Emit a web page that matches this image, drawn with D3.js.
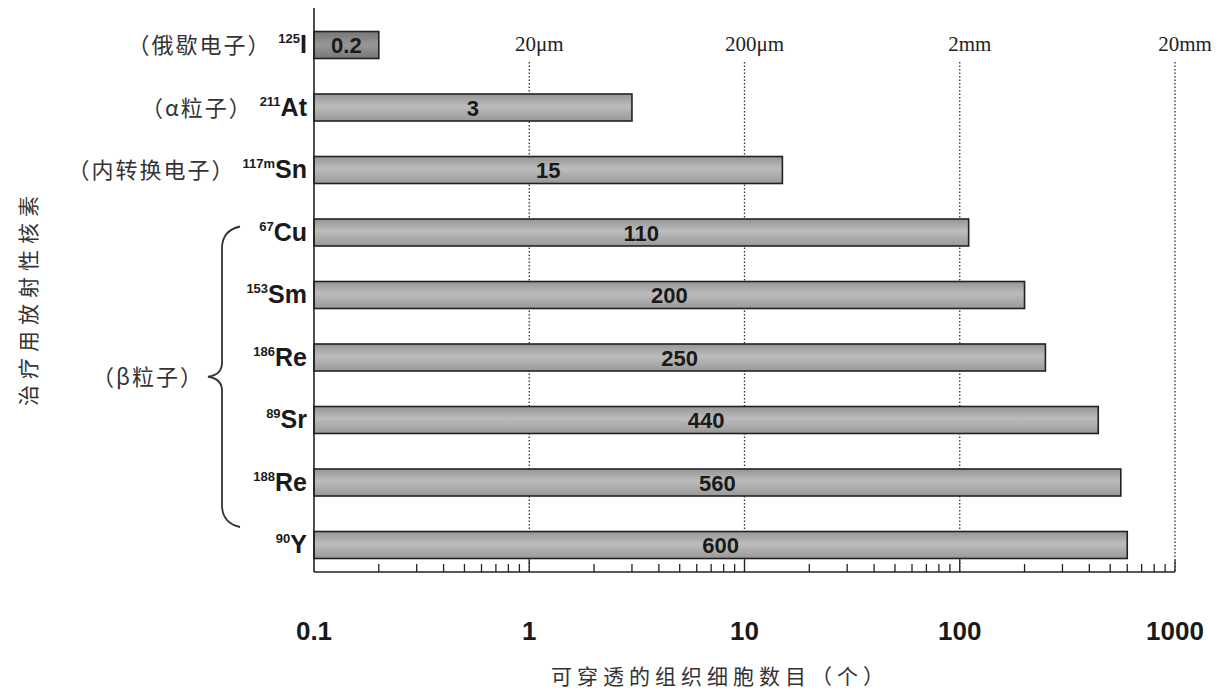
<!DOCTYPE html>
<html>
<head>
<meta charset="utf-8">
<script src="https://cdn.jsdelivr.net/npm/d3@7"></script>
<style>
  body { margin: 0; background: #fff; }
  svg { display: block; }
</style>
</head>
<body>
<div id="chart"></div>
<script>
// nuclides, top to bottom
const massNumbers = ['125', '211', '117m', '67', '153', '186', '89', '188', '90'];
const symbols = ['I', 'At', 'Sn', 'Cu', 'Sm', 'Re', 'Sr', 'Re', 'Y'];
const particleTypes = ['（俄歇电子）', '（α粒子）', '（内转换电子）', '', '', '', '', '', ''];
const cellCounts = [0.2, 3, 15, 110, 200, 250, 440, 560, 600];

// x axis ticks and range markers
const tickValues = [0.1, 1, 10, 100, 1000];
const tickLabels = ['0.1', '1', '10', '100', '1000'];
const rangeMarks = [1, 10, 100, 1000];
const rangeLabels = ['20μm', '200μm', '2mm', '20mm'];

const width = 1218;
const height = 691;

const svg = d3.select('#chart')
    .append('svg')
    .attr('width', width)
    .attr('height', height);

const defs = svg.append('defs');
const grad = defs.append('linearGradient')
    .attr('id', 'barGrad')
    .attr('x1', 0).attr('y1', 0).attr('x2', 0).attr('y2', 1);
grad.append('stop').attr('offset', '0%').attr('stop-color', '#959595');
grad.append('stop').attr('offset', '45%').attr('stop-color', '#bcbcbc');
grad.append('stop').attr('offset', '100%').attr('stop-color', '#999');

const gradDark = defs.append('linearGradient')
    .attr('id', 'barGradDark')
    .attr('x1', 0).attr('y1', 0).attr('x2', 0).attr('y2', 1);
gradDark.append('stop').attr('offset', '0%').attr('stop-color', '#777');
gradDark.append('stop').attr('offset', '50%').attr('stop-color', '#979797');
gradDark.append('stop').attr('offset', '100%').attr('stop-color', '#777');

const axisY = 572;
const x = d3.scaleLog()
    .domain([0.1, 1000])
    .range([314, 1175]);

const rows = d3.range(cellCounts.length);
const y = d3.scalePoint()
    .domain(rows)
    .range([45, 545]);
const barH = 27;

// dotted range lines
svg.append('g')
    .selectAll('line')
    .data(rangeMarks)
    .enter()
    .append('line')
    .attr('x1', d => x(d))
    .attr('x2', d => x(d))
    .attr('y1', 62)
    .attr('y2', axisY)
    .style('stroke', '#333')
    .style('stroke-width', 1.3)
    .style('stroke-dasharray', '1.5,2');

svg.append('g')
    .selectAll('text')
    .data(rangeMarks)
    .enter()
    .append('text')
    .attr('x', d => x(d) + 10)
    .attr('y', 51)
    .attr('text-anchor', 'middle')
    .style('font-family', '"Liberation Serif", "DejaVu Serif", serif')
    .style('font-size', '21px')
    .style('fill', '#222')
    .text((d, i) => rangeLabels[i]);

// bars
svg.append('g')
    .selectAll('rect')
    .data(cellCounts)
    .enter()
    .append('rect')
    .attr('x', x(0.1))
    .attr('y', (d, i) => y(i) - barH / 2)
    .attr('width', d => x(d) - x(0.1))
    .attr('height', barH)
    .style('fill', (d, i) => i === 0 ? 'url(#barGradDark)' : 'url(#barGrad)')
    .style('stroke', '#222')
    .style('stroke-width', 1.6);

// values inside bars
svg.append('g')
    .selectAll('text')
    .data(cellCounts)
    .enter()
    .append('text')
    .attr('x', d => (x(0.1) + x(d)) / 2)
    .attr('y', (d, i) => y(i) + 8)
    .attr('text-anchor', 'middle')
    .style('font-family', '"Liberation Sans", Arial, sans-serif')
    .style('font-weight', 'bold')
    .style('font-size', '22px')
    .style('fill', '#1a1a1a')
    .text(d => d);

// y axis line
svg.append('line')
    .attr('x1', x(0.1)).attr('x2', x(0.1))
    .attr('y1', 8).attr('y2', axisY)
    .style('stroke', '#222')
    .style('stroke-width', 1.6);

// x axis with upward ticks
const minorTicks = x.ticks().filter(t => !tickValues.includes(t));
const xAxis = svg.append('g')
    .attr('transform', `translate(0,${axisY})`);
xAxis.append('line')
    .attr('x1', x(0.1)).attr('x2', x(1000))
    .style('stroke', '#222')
    .style('stroke-width', 1.6);
xAxis.selectAll('.minor')
    .data(minorTicks)
    .enter()
    .append('line')
    .attr('x1', d => x(d)).attr('x2', d => x(d))
    .attr('y1', 0).attr('y2', -8)
    .style('stroke', '#222')
    .style('stroke-width', 1.3);
xAxis.selectAll('.major')
    .data(tickValues.slice(1))
    .enter()
    .append('line')
    .attr('x1', d => x(d)).attr('x2', d => x(d))
    .attr('y1', 0).attr('y2', -12)
    .style('stroke', '#222')
    .style('stroke-width', 1.3);
xAxis.selectAll('text')
    .data(tickValues)
    .enter()
    .append('text')
    .attr('x', d => x(d))
    .attr('y', 68)
    .attr('text-anchor', 'middle')
    .style('font-family', '"Liberation Sans", Arial, sans-serif')
    .style('font-weight', 'bold')
    .style('font-size', '26px')
    .style('fill', '#1a1a1a')
    .text((d, i) => tickLabels[i]);

// nuclide labels with particle type prefix
const labels = svg.append('g')
    .selectAll('text')
    .data(rows)
    .enter()
    .append('text')
    .attr('x', 307)
    .attr('y', i => y(i) + 8)
    .attr('text-anchor', 'end')
    .style('fill', '#1a1a1a');
labels.append('tspan')
    .style('font-family', '"Noto Sans CJK SC", sans-serif')
    .style('font-size', '22px')
    .style('letter-spacing', '2px')
    .style('fill', '#333')
    .text(i => particleTypes[i] ? particleTypes[i] + ' ' : '');
labels.append('tspan')
    .attr('dy', -10)
    .style('font-family', '"Liberation Sans", Arial, sans-serif')
    .style('font-weight', 'bold')
    .style('font-size', '13px')
    .text(i => massNumbers[i]);
labels.append('tspan')
    .attr('dy', 10)
    .style('font-family', '"Liberation Sans", Arial, sans-serif')
    .style('font-weight', 'bold')
    .style('font-size', '25px')
    .text(i => symbols[i]);

// brace for beta emitters
const bTop = y(3) - 6, bBot = y(8) - 18, bMid = (bTop + bBot) / 2;
svg.append('path')
    .attr('d', `M240,${bTop} Q222,${bTop + 4} 222,${bTop + 22} L222,${bMid - 14} Q222,${bMid - 2} 208,${bMid}
               Q222,${bMid + 2} 222,${bMid + 14} L222,${bBot - 22} Q222,${bBot - 4} 240,${bBot}`)
    .style('fill', 'none')
    .style('stroke', '#333')
    .style('stroke-width', 1.8);
svg.append('text')
    .attr('x', 204)
    .attr('y', bMid + 8)
    .attr('text-anchor', 'end')
    .style('font-family', '"Noto Sans CJK SC", sans-serif')
    .style('font-size', '22px')
    .style('letter-spacing', '2px')
    .style('fill', '#333')
    .text('（β粒子）');

// axis titles
svg.append('text')
    .attr('x', 720)
    .attr('y', 684)
    .attr('text-anchor', 'middle')
    .style('font-family', '"Noto Sans CJK SC", sans-serif')
    .style('font-size', '21px')
    .style('letter-spacing', '5px')
    .style('fill', '#333')
    .text('可穿透的组织细胞数目（个）');

svg.append('text')
    .attr('transform', 'translate(36,298) rotate(-90)')
    .attr('text-anchor', 'middle')
    .style('font-family', '"Noto Sans CJK SC", sans-serif')
    .style('font-size', '21px')
    .style('letter-spacing', '6px')
    .style('fill', '#333')
    .text('治疗用放射性核素');
</script>
</body>
</html>
